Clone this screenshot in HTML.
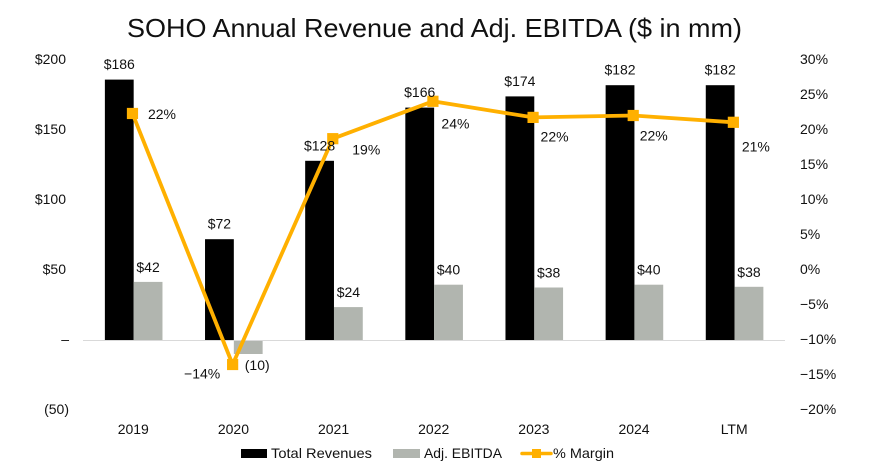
<!DOCTYPE html>
<html lang="en">
<head>
<meta charset="utf-8">
<title>SOHO Annual Revenue and Adj. EBITDA</title>
<style>
  html, body { margin: 0; padding: 0; background: #fff; }
  #chart-frame { position: relative; width: 885px; height: 476px; overflow: hidden; }
  svg { display: block; }
  text { font-family: "Liberation Sans", sans-serif; fill: #111; }
</style>
</head>
<body>
<div id="chart-frame">
<svg id="chart" width="885" height="476" viewBox="0 0 885 476" xmlns="http://www.w3.org/2000/svg">
  <rect x="0" y="0" width="885" height="476" fill="#fff"></rect>
  <text x="434.5" y="37" text-anchor="middle" font-size="26" textLength="615" lengthAdjust="spacingAndGlyphs">SOHO Annual Revenue and Adj. EBITDA ($ in mm)</text>
  <g id="left-axis"></g>
  <g id="right-axis"></g>
  <g id="category-axis"></g>
  <g id="bars"></g>
  <line id="zero-line" stroke="#d9d9d9" stroke-width="1"></line>
  <g id="margin-series"></g>
  <g id="labels"></g>
  <g id="legend">
    <g>
      <rect x="241" y="449" width="26" height="9" fill="#000"></rect>
      <text x="271" y="458" font-size="14" textLength="101" lengthAdjust="spacingAndGlyphs">Total Revenues</text>
    </g>
    <g>
      <rect x="393" y="449" width="27" height="9" fill="#b1b5af"></rect>
      <text x="424" y="458" font-size="14" textLength="78" lengthAdjust="spacingAndGlyphs">Adj. EBITDA</text>
    </g>
    <g>
      <line x1="522" y1="453.5" x2="551" y2="453.5" stroke="#ffb000" stroke-width="3.5" stroke-linecap="round"></line>
      <rect x="532" y="449" width="9" height="9" fill="#ffb000"></rect>
      <text x="553" y="458" font-size="14" textLength="61" lengthAdjust="spacingAndGlyphs">% Margin</text>
    </g>
  </g>
</svg>
</div>
<script>
const categories = ['2019', '2020', '2021', '2022', '2023', '2024', 'LTM'];
const totalRevenues = [186, 72, 128, 166, 174, 182, 182];
const adjEbitda = [41.5, -10, 23.5, 39.5, 37.5, 39.5, 38];
const marginPct = [22.36, -13.5, 18.76, 24.1, 21.8, 22.07, 21.1];
const revenueLabels = ['$186', '$72', '$128', '$166', '$174', '$182', '$182'];
const ebitdaLabels = ['$42', '(10)', '$24', '$40', '$38', '$40', '$38'];
const marginLabels = ['22%', '\u221214%', '19%', '24%', '22%', '22%', '21%'];
const leftTicks = [200, 150, 100, 50, 0, -50];
const leftTickLabels = ['$200', '$150', '$100', '$50', '\u2013', '(50)'];
const rightTicks = [30, 25, 20, 15, 10, 5, 0, -5, -10, -15, -20];
const rightTickLabels = ['30%', '25%', '20%', '15%', '10%', '5%', '0%', '\u22125%', '\u221210%', '\u221215%', '\u221220%'];

const NS = 'http://www.w3.org/2000/svg';
const plotLeft = 83.6, plotRight = 784.65, plotTop = 60, plotBottom = 410;
const barWidth = 28.8;
const lineShift = -1.2;
const marginNudgeX = [29.5, -30.5, 33.5, 22.5, 21.5, 20.5, 22.5];
const marginNudgeY = [5.5, 14, 16, 27, 24, 25, 29];

function yLeft(v) { return plotBottom - (v + 50) / 250 * (plotBottom - plotTop); }
function yRight(v) { return plotBottom - (v + 20) / 50 * (plotBottom - plotTop); }
function xCenter(i) { return plotLeft + (i + 0.5) * (plotRight - plotLeft) / categories.length; }
function xLine(i) { return xCenter(i) + lineShift; }

function make(tag, attrs, parent, content) {
  const el = document.createElementNS(NS, tag);
  Object.keys(attrs).forEach(function (k) { el.setAttribute(k, attrs[k]); });
  if (content !== undefined) el.textContent = content;
  document.getElementById(parent).appendChild(el);
  return el;
}

const zero = document.getElementById('zero-line');
zero.setAttribute('x1', 83);
zero.setAttribute('x2', 785);
zero.setAttribute('y1', yLeft(0) + 0.5);
zero.setAttribute('y2', yLeft(0) + 0.5);

leftTicks.forEach(function (t, i) {
  const isParen = t <= 0;
  const el = make('text', { x: isParen ? 69 : 66, y: yLeft(t) + 4, 'text-anchor': 'end', 'font-size': 14 }, 'left-axis', leftTickLabels[i]);
  
  
});

rightTicks.forEach(function (t, i) {
  const el = make('text', { x: 800, y: yRight(t) + 4, 'font-size': 14 }, 'right-axis', rightTickLabels[i]);
  
  
});

categories.forEach(function (c, i) {
  const label = make('text', { x: xCenter(i) - 0.4, y: 434, 'text-anchor': 'middle', 'font-size': 14 }, 'category-axis', c);
  
  

  const rev = totalRevenues[i];
  const bar = make('rect', {
    x: xCenter(i) - barWidth,
    y: Math.min(yLeft(rev), yLeft(0)),
    width: barWidth,
    height: Math.abs(yLeft(rev) - yLeft(0)),
    fill: '#000'
  }, 'bars');
  
  

  const eb = adjEbitda[i];
  const ebBar = make('rect', {
    x: xCenter(i),
    y: Math.min(yLeft(eb), yLeft(0)),
    width: barWidth,
    height: Math.abs(yLeft(eb) - yLeft(0)),
    fill: '#b1b5af'
  }, 'bars');
  
  

  const revLabel = make('text', {
    x: xCenter(i) - barWidth / 2,
    y: yLeft(rev) - 10.5,
    'text-anchor': 'middle',
    'font-size': 14
  }, 'labels', revenueLabels[i]);
  
  

  const ebLabel = make('text', {
    x: xCenter(i) + barWidth / 2 + (eb < 0 ? 9 : 0),
    y: eb < 0 ? yLeft(eb) + 16 : yLeft(eb) - 10,
    'text-anchor': 'middle',
    'font-size': 14
  }, 'labels', ebitdaLabels[i]);
  
  

  const mLabel = make('text', {
    x: xLine(i) + marginNudgeX[i],
    y: yRight(marginPct[i]) + marginNudgeY[i],
    'text-anchor': 'middle',
    'font-size': 14
  }, 'labels', marginLabels[i]);
  
  
});

const linePoints = marginPct.map(function (m, i) { return xLine(i) + ',' + yRight(m); }).join(' ');
const marginLine = make('polyline', {
  points: linePoints,
  fill: 'none',
  stroke: '#ffb000',
  'stroke-width': 3.8,
  'stroke-linejoin': 'round'
}, 'margin-series');



marginPct.forEach(function (m, i) {
  const pt = make('rect', {
    x: xLine(i) - 5.6,
    y: yRight(m) - 5.6,
    width: 11.2,
    height: 11.2,
    fill: '#ffb000'
  }, 'margin-series');
  
  
});
</script>
</body>
</html>
